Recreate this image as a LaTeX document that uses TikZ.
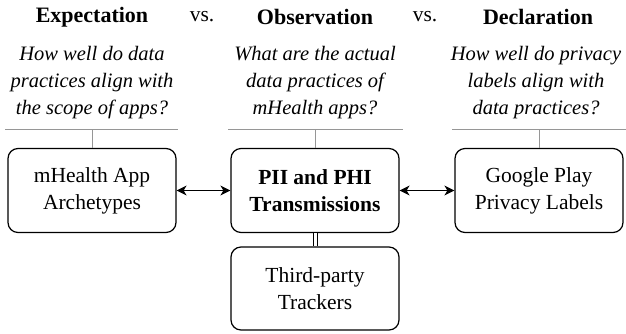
\documentclass[tikz,border=0pt]{standalone}
\usepackage{fontspec}
\setmainfont{Liberation Serif}
\usepackage{tikz}
\usetikzlibrary{arrows.meta, positioning}
\pgfdeclarelayer{edgelayer}
\pgfdeclarelayer{nodelayer}
\pgfsetlayers{nodelayer,main,edgelayer}
\definecolor{rulegray}{RGB}{150,150,150}
\tikzset{
	box/.style={draw, rounded corners=10pt, line width=1.2pt, minimum width=168pt, minimum height=84pt, align=center, font={\fontsize{21.5}{27}\selectfont}},
	head/.style={font={\bfseries\fontsize{22}{26}\selectfont}},
	question/.style={align=center, font={\itshape\fontsize{20.5}{27}\selectfont}},
	rule/.style={rulegray, line width=1pt},
	tip/.style={{Stealth[length=10pt, width=10pt, inset=3pt]}-{Stealth[length=10pt, width=10pt, inset=3pt]}, line width=1.2pt},
}

\begin{document}
\begin{tikzpicture}[x=1pt, y=-1pt, thick]
	\useasboundingbox (0,0) rectangle (626,333);
	\begin{pgfonlayer}{nodelayer}
		\node [head] (0) at (92, 17) {Expectation};
		\node [font={\fontsize{21.5}{26}\selectfont}] (1) at (202, 17) {vs.};
		\node [head] (2) at (315, 17) {Observation};
		\node [font={\fontsize{21.5}{26}\selectfont}] (3) at (425, 17) {vs.};
		\node [head] (4) at (538, 17) {Declaration};
		\node [question] (5) at (92, 83) {How well do data\\practices align with\\the scope of apps?};
		\node [question] (6) at (315, 83) {What are the actual\\data practices of\\mHealth apps?};
		\node [question] (7) at (536, 83) {How well do privacy\\labels align with\\data practices?};
		\node [] (8) at (5, 129) {};
		\node [] (9) at (178, 129) {};
		\node [] (10) at (228, 129) {};
		\node [] (11) at (403, 129) {};
		\node [] (12) at (452, 129) {};
		\node [] (13) at (626, 129) {};
		\node [] (14) at (92, 129) {};
		\node [] (15) at (315, 129) {};
		\node [] (16) at (539, 129) {};
		\node [box] (20) at (92, 190.5) {mHealth App\\Archetypes};
		\node [box] (21) at (315, 190.5) {\textbf{PII and PHI}\\\textbf{Transmissions}};
		\node [box] (22) at (539, 190.5) {Google Play\\Privacy Labels};
		\node [box, minimum height=83pt] (23) at (315, 288.5) {Third-party\\Trackers};
	\end{pgfonlayer}
	\begin{pgfonlayer}{edgelayer}
		\draw [rule] (8.center) to (9.center);
		\draw [rule] (10.center) to (11.center);
		\draw [rule] (12.center) to (13.center);
		\draw [rule] (14.center) to (20.north);
		\draw [rule] (15.center) to (21.north);
		\draw [rule] (16.center) to (22.north);
		\draw [tip] (20) to (21);
		\draw [tip] (21) to (22);
		\draw [double, double distance=3pt, line width=1pt] (21) to (23);
	\end{pgfonlayer}
\end{tikzpicture}
\end{document}
